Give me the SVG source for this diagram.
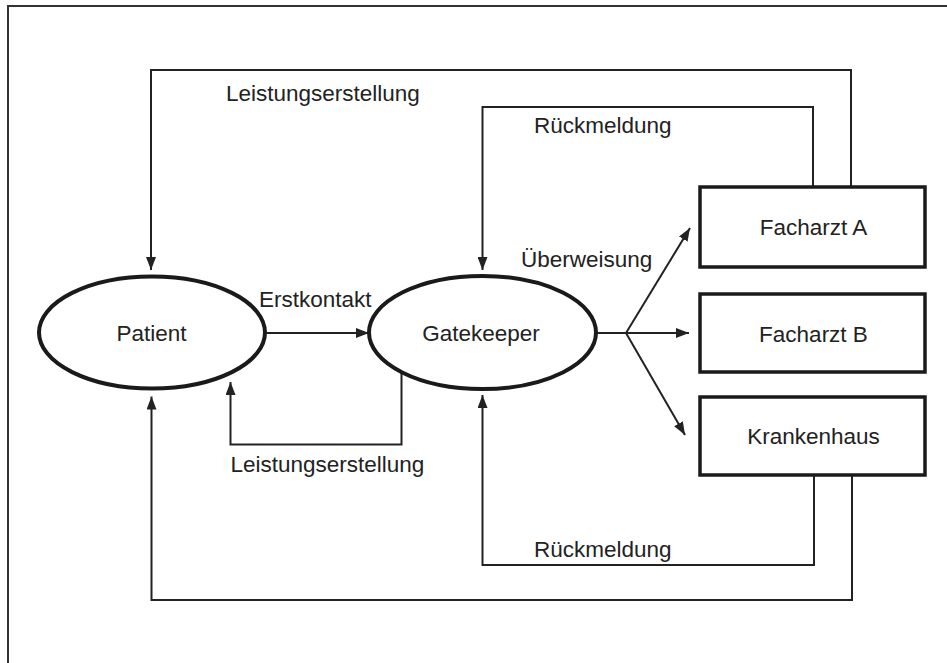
<svg xmlns="http://www.w3.org/2000/svg" width="947" height="663" viewBox="0 0 947 663">
  <style>
    .frame { fill: none; stroke: #333; stroke-width: 2; }
    .ell { fill: #fff; stroke: #1a1a1a; stroke-width: 4; }
    .box { fill: #fff; stroke: #1a1a1a; stroke-width: 3.5; }
    .conn { fill: none; stroke: #222; stroke-width: 2; }
    .arr { marker-end: url(#head); }
    text { font-family: "Liberation Sans", Arial, sans-serif; font-size: 22.5px; fill: #222; }
    .c { text-anchor: middle; }
  </style>
  <defs>
    <marker id="head" markerUnits="userSpaceOnUse" markerWidth="13" markerHeight="10" refX="13" refY="5" orient="auto">
      <path d="M0,0 L13,5 L0,10 z" fill="#222"/>
    </marker>
  </defs>

  <rect width="947" height="663" fill="#fff"/>
  <!-- page frame (top and left edges) -->
  <path class="frame" d="M8,663 V6 H947"/>

  <g id="connectors">
    <!-- Facharzt A to Patient, over the top -->
    <path class="conn arr" d="M851,187 V70 H151 V270"/>
    <!-- Facharzt A back to Gatekeeper -->
    <path class="conn arr" d="M813,187 V107 H482.5 V270"/>
    <!-- Patient to Gatekeeper -->
    <path class="conn arr" d="M265,333 H369"/>
    <!-- Gatekeeper to Patient, underneath -->
    <path class="conn arr" d="M401.5,372 V444.5 H230.5 V382"/>
    <!-- referral fork -->
    <path class="conn" d="M596,333 H626"/>
    <path class="conn arr" d="M626,333 L690,228"/>
    <path class="conn arr" d="M626,333 H689"/>
    <path class="conn arr" d="M626,333 L685,435"/>
    <!-- Krankenhaus back to Gatekeeper -->
    <path class="conn arr" d="M814,475 V565 H482.5 V395"/>
    <!-- Krankenhaus to Patient, along the bottom -->
    <path class="conn arr" d="M852,475 V600 H151.5 V396.5"/>
  </g>

  <g id="patient">
    <ellipse class="ell" cx="152" cy="332.5" rx="113" ry="56"/>
    <text class="c" x="151.5" y="341">Patient</text>
  </g>
  <g id="gatekeeper">
    <ellipse class="ell" cx="482.5" cy="332.5" rx="113.5" ry="56.5"/>
    <text class="c" x="481" y="341">Gatekeeper</text>
  </g>
  <g id="facharzt-a">
    <rect class="box" x="700" y="187" width="225" height="80"/>
    <text class="c" x="813.5" y="235">Facharzt A</text>
  </g>
  <g id="facharzt-b">
    <rect class="box" x="700" y="294" width="225" height="78"/>
    <text class="c" x="813.5" y="341.5">Facharzt B</text>
  </g>
  <g id="krankenhaus">
    <rect class="box" x="700" y="397" width="225" height="78"/>
    <text class="c" x="813.5" y="444">Krankenhaus</text>
  </g>

  <g id="labels">
    <text x="226" y="100.5">Leistungserstellung</text>
    <text x="534" y="132.5">Rückmeldung</text>
    <text x="259" y="307">Erstkontakt</text>
    <text x="521" y="267">Überweisung</text>
    <text x="230.5" y="471.5">Leistungserstellung</text>
    <text x="534" y="556.5">Rückmeldung</text>
  </g>
</svg>
